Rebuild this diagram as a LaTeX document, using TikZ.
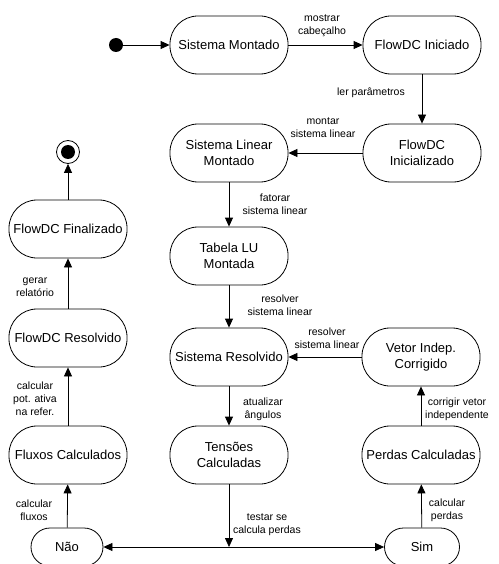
\documentclass[tikz,border=0pt]{standalone}
\usepackage{fontspec}
\setmainfont{Liberation Sans}
\usetikzlibrary{arrows.meta}
\begin{document}
\begin{tikzpicture}[x=1pt,y=-1pt,
  state/.style={draw,line width=0.8pt,rounded corners=28pt,minimum width=118pt,
    minimum height=58pt,inner sep=0pt,align=center,font=\fontsize{13}{16}\selectfont},
  choice/.style={state,rounded corners=19pt,minimum height=38pt},
  lbl/.style={align=center,font=\fontsize{10.5}{13}\selectfont,inner sep=0pt},
  tr/.style={-{Triangle[length=9pt,width=8pt]},line width=0.8pt}]
\useasboundingbox (0,0) rectangle (498,564);

% initial and final pseudo-states
\node[circle,fill,minimum size=14pt,inner sep=0pt] (init) at (116,45) {};
\node[circle,draw,line width=0.8pt,minimum size=23pt,inner sep=0pt] (fin) at (68,152) {};
\fill (fin.center) circle (7pt);

% states
\node[state] (sm)  at (229,45)  {Sistema Montado};
\node[state] (fi)  at (422,45)  {FlowDC Iniciado};
\node[state] (fiz) at (422,153) {FlowDC\\Inicializado};
\node[state] (slm) at (229,153) {Sistema Linear\\Montado};
\node[state] (lu)  at (229,256) {Tabela LU\\Montada};
\node[state] (sr)  at (229,357) {Sistema Resolvido};
\node[state] (vic) at (421,357) {Vetor Indep.\\Corrigido};
\node[state] (tc)  at (229,455) {Tensões\\Calculadas};
\node[state] (pc)  at (421,455) {Perdas Calculadas};
\node[state] (fc)  at (68,455)  {Fluxos Calculados};
\node[state] (fr)  at (68,338)  {FlowDC Resolvido};
\node[state] (ff)  at (68,229)  {FlowDC Finalizado};
\node[choice,minimum width=72pt] (nao) at (67,547)  {Não};
\node[choice,minimum width=75pt] (sim) at (422,547) {Sim};
\coordinate (fork) at (229,547);

% transitions
\draw[tr] (init) -- (sm);
\draw[tr] (sm) -- (fi);
\draw[tr] (fi) -- (fiz);
\draw[tr] (fiz) -- (slm);
\draw[tr] (slm) -- (lu);
\draw[tr] (lu) -- (sr);
\draw[tr] (vic) -- (sr);
\draw[tr] (sr) -- (tc);
\draw[tr] (tc) -- (fork);
\draw[tr] (fork) -- (nao);
\draw[tr] (fork) -- (sim);
\draw[tr] (sim) -- (pc);
\draw[tr] (pc) -- (vic);
\draw[tr] (nao) -- (fc);
\draw[tr] (fc) -- (fr);
\draw[tr] (fr) -- (ff);
\draw[tr] (ff) -- (fin);

% transition labels
\node[lbl] (l1)  at (322,26)  {mostrar\\cabeçalho};
\node[lbl] (l2)  at (371,93)  {ler parâmetros};
\node[lbl] (l3)  at (323,128) {montar\\sistema linear};
\node[lbl] (l4)  at (275,204) {fatorar\\sistema linear};
\node[lbl] (l5)  at (280,305) {resolver\\sistema linear};
\node[lbl] (l6)  at (327,338) {resolver\\sistema linear};
\node[lbl] (l7)  at (263,409) {atualizar\\ângulos};
\node[lbl] (l8)  at (267,525) {testar se\\calcula perdas};
\node[lbl] (l9)  at (457,409) {corrigir vetor\\independente};
\node[lbl] (l10) at (447,510) {calcular\\perdas};
\node[lbl] (l11) at (34,510)  {calcular\\fluxos};
\node[lbl] (l12) at (35,399)  {calcular\\pot. ativa\\na refer.};
\node[lbl] (l13) at (35,287)  {gerar\\relatório};
\end{tikzpicture}
\end{document}
